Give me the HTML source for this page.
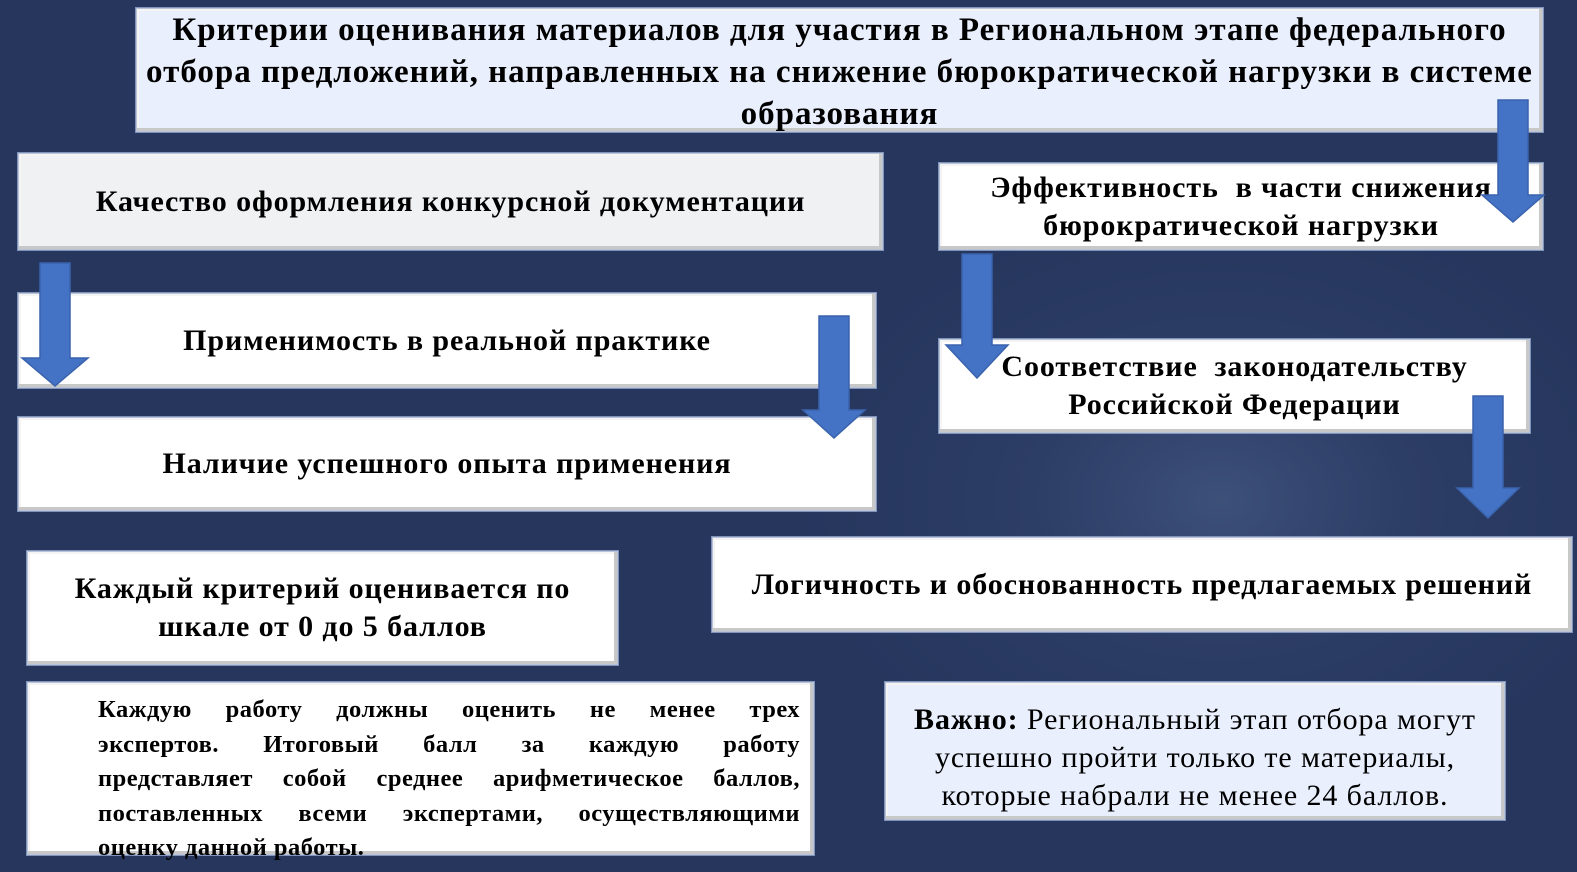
<!DOCTYPE html>
<html><head><meta charset="utf-8"><style>
body{margin:0;width:1577px;height:872px;overflow:hidden;background:radial-gradient(ellipse 420px 300px at 1220px 500px,#3d5079 0%,#2c3d66 45%,#26365d 100%);font-family:"Liberation Serif","Times New Roman",serif;position:relative}
.b{position:absolute;box-sizing:border-box;background:#fff;border:1px solid #b9c3d6;box-shadow:inset -3px -3px 0 #c8c8c8,inset 2px 2px 0 #f4f4f4,0 0 0 1px #7f93bd;display:flex;align-items:center;justify-content:center;text-align:center;font-weight:bold;color:#000;font-size:30px;line-height:38px;letter-spacing:0.9px;white-space:nowrap}
svg{position:absolute;left:0;top:0}
.j div{text-align:justify;text-align-last:justify}
.j div.l{text-align-last:left}
</style></head><body>
<div class="b" style="left:136px;top:8px;width:1407px;height:124px;background:#e9effd;font-size:33px;line-height:42px;letter-spacing:1px;padding-top:4px">Критерии оценивания материалов для участия в Региональном этапе федерального<br>отбора предложений, направленных на снижение бюрократической нагрузки в системе<br>образования</div>
<div class="b" style="left:18px;top:153px;width:865px;height:97px;background:#f0f1f3">Качество оформления конкурсной документации</div>
<div class="b" style="left:939px;top:163px;width:604px;height:87px">Эффективность&nbsp; в части снижения<br>бюрократической нагрузки</div>
<div class="b" style="left:18px;top:293px;width:858px;height:95px">Применимость в реальной практике</div>
<div class="b" style="left:18px;top:417px;width:858px;height:94px">Наличие успешного опыта применения</div>
<div class="b" style="left:939px;top:339px;width:591px;height:94px">Соответствие&nbsp; законодательству<br>Российской Федерации</div>
<div class="b" style="left:712px;top:537px;width:860px;height:95px">Логичность и обоснованность предлагаемых решений</div>
<div class="b" style="left:27px;top:551px;width:591px;height:114px">Каждый критерий оценивается по<br>шкале от 0 до 5 баллов</div>
<div class="b j" style="left:27px;top:682px;width:787px;height:173px;display:block;font-size:24.5px;line-height:34.5px;letter-spacing:0.5px;padding:10px 13px 0 70px;white-space:normal">
<div>Каждую работу должны оценить не менее трех</div>
<div>экспертов. Итоговый балл за каждую работу</div>
<div>представляет собой среднее арифметическое баллов,</div>
<div>поставленных всеми экспертами, осуществляющими</div>
<div class="l">оценку данной работы.</div></div>
<div class="b" style="left:885px;top:682px;width:620px;height:138px;background:#e9effd;font-weight:normal;font-size:30px;line-height:38px;letter-spacing:0.9px;padding-top:14px">
<div><b>Важно:</b> Региональный этап отбора могут<br>успешно пройти только те материалы,<br>которые набрали не менее 24 баллов.</div></div>
<svg width="1577" height="872">
<g fill="#4472c4" stroke="#3a63ad" stroke-width="1.5">
<polygon points="40,263 70,263 70,358 88,358 55,386 22,358 40,358"/>
<polygon points="819,316 849,316 849,410 865,410 834,438 803,410 819,410"/>
<polygon points="962,254 992,254 992,345 1008,345 977,378 946,345 962,345"/>
<polygon points="1498,100 1528,100 1528,195 1544,195 1513,222 1482,195 1498,195"/>
<polygon points="1473,396 1503,396 1503,488 1519,488 1488,518 1457,488 1473,488"/>
</g></svg>
</body></html>
